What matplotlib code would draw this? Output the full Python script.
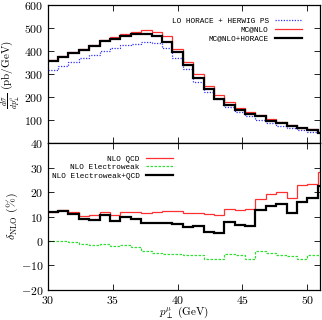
import numpy as np
import matplotlib
matplotlib.use("Agg")
import matplotlib.pyplot as plt

plt.rcParams['font.family'] = ['cmr10']
plt.rcParams['mathtext.fontset'] = 'cm'
plt.rcParams['axes.formatter.use_mathtext'] = True
plt.rcParams['axes.unicode_minus'] = False

# bin edges (GeV)
edges = [30.0, 30.8, 31.6, 32.4, 33.2, 34.0, 34.8, 35.6, 36.4, 37.2, 38.0, 38.8,
         39.6, 40.4, 41.2, 42.0, 42.8, 43.6, 44.4, 45.2, 46.0, 46.8, 47.6, 48.4,
         49.2, 50.0, 50.8, 51.6]

# upper panel: dsigma/dpT (pb/GeV)
lo_horace = [320, 336, 351, 370, 385, 399, 413, 425, 432, 442, 435, 412, 370, 322,
             268, 224, 191, 159, 137, 117, 100, 87, 74, 66, 57, 49, 46]
mcatnlo = [360, 378, 397, 410, 428, 448, 462, 474, 483, 490, 484, 464, 410, 355,
           300, 250, 210, 178, 152, 135, 122, 104, 91, 80, 68, 61, 50]
mcatnlo_horace = [358, 376, 393, 407, 424, 443, 453, 468, 474, 475, 464, 440, 395, 340,
                  283, 235, 193, 167, 145, 128, 119, 97, 87, 75, 65, 56, 46]

# lower panel: delta_NLO (%)
d_qcd = [12.0, 12.6, 11.8, 10.4, 10.5, 11.9, 10.7, 11.9, 11.8, 11.4, 12.1, 12.5, 12.3,
         11.4, 11.5, 11.0, 10.7, 13.2, 12.8, 13.3, 17.1, 19.3, 20.1, 17.6, 23.1, 23.5, 28.1]
d_ew = [0.0, 0.0, -0.5, -1.2, -1.6, -1.2, -2.2, -1.6, -2.6, -4.0, -4.9, -5.2, -5.3,
        -5.6, -5.8, -7.2, -7.2, -5.3, -5.9, -7.2, -4.2, -4.9, -5.6, -6.3, -7.3, -5.9, -5.9]
d_ewqcd = [11.7, 12.5, 11.2, 9.1, 8.7, 10.6, 8.4, 10.0, 9.0, 7.3, 7.6, 7.6, 7.1,
           5.6, 6.0, 3.7, 3.5, 7.7, 6.7, 6.0, 12.8, 14.2, 15.0, 11.6, 15.8, 17.8, 22.6]

upper_ticks = [100, 200, 300, 400, 500, 600]
lower_ticks = [-20, -10, 0, 10, 20, 30, 40]
x_ticks = [30, 35, 40, 45, 50]

fig = plt.figure(figsize=(3.22, 3.20), dpi=100)
ax1 = fig.add_axes([0.148, 0.552, 0.847, 0.432])
ax2 = fig.add_axes([0.148, 0.094, 0.847, 0.458])

ax1.stairs(lo_horace, edges, baseline=None, color='#3030ff', lw=0.9, ls=(0, (1, 1.2)),
           label='LO HORACE + HERWIG PS')
ax1.stairs(mcatnlo, edges, baseline=None, color='#ff3030', lw=0.9, label='MC@NLO')
ax1.stairs(mcatnlo_horace, edges, baseline=None, color='black', lw=1.6,
           label='MC@NLO+HORACE')

ax2.stairs(d_qcd, edges, baseline=None, color='#ff3030', lw=0.9, label='NLO QCD')
ax2.stairs(d_ew, edges, baseline=None, color='#30e030', lw=0.9, ls=(0, (2, 1.2)),
           label='NLO Electroweak')
ax2.stairs(d_ewqcd, edges, baseline=None, color='black', lw=1.6,
           label='NLO Electroweak+QCD')

for ax in (ax1, ax2):
    ax.set_xlim(30, 51)
    ax.set_xticks(x_ticks)
    ax.tick_params(direction='in', length=4, width=0.6, top=True, right=True,
                   labelsize=8.5, pad=3)
    for s in ax.spines.values():
        s.set_linewidth(0.9)

ax1.set_ylim(0, 600)
ax1.set_yticks(upper_ticks)
ax1.tick_params(labelbottom=False)
ax2.set_ylim(-20, 40)
ax2.set_yticks(lower_ticks)

ax1.set_ylabel(r'$\frac{d\sigma}{dp_\perp^\mu}$ (pb/GeV)', fontsize=8, va='center')
ax1.yaxis.set_label_coords(-0.135, 0.5)
ax2.set_ylabel(r'$\delta_{\rm NLO}$ (%)', fontsize=8.5, va='center')
ax2.yaxis.set_label_coords(-0.128, 0.5)
ax2.set_xlabel(r'$p_\perp^\mu$ (GeV)', fontsize=8, va='center')
ax2.xaxis.set_label_coords(0.5, -0.16)

legkw = dict(frameon=False, markerfirst=False, prop={'family': 'Liberation Mono', 'size': 5.6},
             handlelength=3.5, handletextpad=0.8, labelspacing=0.15, borderpad=0,
             borderaxespad=0, loc='upper right')
ax1.legend(bbox_to_anchor=(0.933, 0.91), **legkw)
ax2.legend(bbox_to_anchor=(0.46, 0.92), **legkw)

fig.savefig('out.png', dpi=100)
